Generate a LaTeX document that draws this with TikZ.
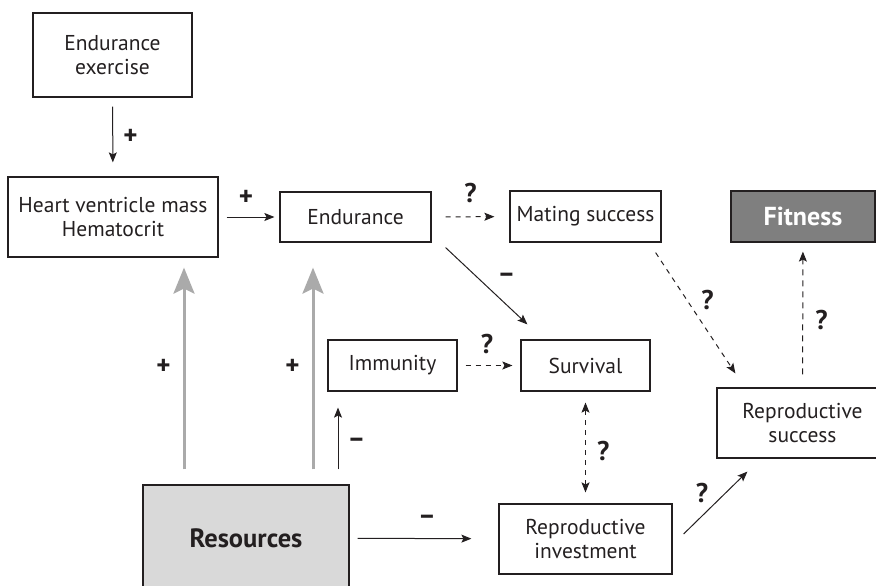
\documentclass[tikz,border=0pt]{standalone}
\usepackage{fontspec}
\setmainfont{PT Sans}
\usepackage{color}
\usepackage{tikz}
\usetikzlibrary{arrows.meta}
\definecolor{ink}{HTML}{231F20}
\definecolor{fitgray}{HTML}{7F7F7F}
\definecolor{resgray}{HTML}{D9D9D9}
\definecolor{arrgray}{HTML}{AAAAAA}

\begin{document}
\begin{tikzpicture}[x=1pt, y=-1pt, color=ink, font=\fontsize{21.5}{24}\selectfont, % 1pt = 1px、下向きにy
  box/.style={draw=ink, line width=1.2pt, align=center, inner sep=0pt, text=ink},
  lab/.style={font=\bfseries\fontsize{27}{27}\selectfont, inner sep=0pt},
  arr/.style={-{Stealth[length=10pt,width=8pt,inset=2pt]}, line width=1pt},
  dasharr/.style={arr, dash pattern=on 5pt off 5pt},
  grayarr/.style={-{Stealth[length=26pt,width=21pt,inset=5pt]}, draw=arrgray, line width=3pt}]
  \useasboundingbox (0,0) rectangle (876,586); % 図の大きさ
  \clip (0,0) rectangle (876,586);

  \node[box, minimum width=159, minimum height=84] (exer) at (112.5,55) {Endurance\\exercise};
  \node[box, minimum width=210, minimum height=80] (heart) at (113,217) {Heart ventricle mass\\Hematocrit};
  \node[box, minimum width=151, minimum height=50] (endur) at (355.5,217) {Endurance};
  \node[box, minimum width=151, minimum height=51] (mating) at (585.5,216.5) {Mating success};
  \node[box, fill=fitgray, text=white, font=\bfseries\fontsize{26}{26}\selectfont, minimum width=144, minimum height=51] (fitness) at (803,216.5) {Fitness};
  \node[box, minimum width=129, minimum height=51] (immun) at (392.5,365.5) {Immunity};
  \node[box, minimum width=129, minimum height=51] (surv) at (585.5,365.5) {Survival};
  \node[box, minimum width=171, minimum height=70] (repsucc) at (802.5,423) {Reproductive\\success};
  \node[box, minimum width=173, minimum height=70] (repinv) at (585.5,539) {Reproductive\\investment};
  \node[box, fill=resgray, font=\bfseries\fontsize{26.5}{26.5}\selectfont, minimum width=206, minimum height=106] (res) at (246,538) {Resources};

  \draw[arr, shorten <=9pt, shorten >=14pt] (exer) -- node[lab, right=10pt]{+} (heart);
  \draw[arr, shorten <=8pt, shorten >=5pt] (heart) -- node[lab, above=11pt, xshift=-3pt]{+} (endur);
  \draw[dasharr, shorten <=14pt, shorten >=15pt] (endur) -- node[lab, above=13pt]{?} (mating);
  \draw[arr] ([shift={(14,5)}]endur.south east) -- node[lab, xshift=20pt, yshift=8pt]{--} ([shift={(7,-15)}]surv.north west);
  \draw[dasharr] ([shift={(-6,10)}]mating.south east) -- node[lab, xshift=12pt, yshift=13pt]{?} ([shift={(19,-14)}]repsucc.north west);
  \draw[dasharr, dash pattern=on 6pt off 5pt, shorten <=13pt, shorten >=9pt] (repsucc) -- node[lab, right=12pt, yshift=-5pt]{?} (fitness);
  \draw[dasharr, shorten <=8pt, shorten >=8pt] (immun) -- node[lab, above=11pt, xshift=-2pt]{?} (surv);

  \draw[grayarr] ([shift={(-62,-15)}]res.north) -- node[lab, color=ink, left=12pt, yshift=2pt]{+} ([shift={(71,10)}]heart.south);
  \draw[grayarr] ([shift={(67,-15)}]res.north) -- node[lab, color=ink, left=12pt, yshift=2pt]{+} ([shift={(-42.5,25)}]endur.south);
  \draw[arr] ([shift={(92,-15)}]res.north) -- node[lab, right=9pt, yshift=-4pt]{--} ([shift={(-54.5,16)}]immun.south);
  \draw[arr, shorten <=8pt, shorten >=27pt] (res) -- node[lab, above=14pt, xshift=3pt]{--} (repinv);
  \draw[dasharr, {Stealth[length=10pt,width=8pt,inset=2pt]}-{Stealth[length=10pt,width=8pt,inset=2pt]}, shorten <=11pt, shorten >=11pt] (surv) -- node[lab, right=11pt, yshift=-4pt]{?} (repinv);
  \draw[arr] ([shift={(11,-5)}]repinv.east) -- node[lab, xshift=-13.5pt, yshift=9.5pt]{?} ([shift={(31,13)}]repsucc.south west);
\end{tikzpicture}
\end{document}
